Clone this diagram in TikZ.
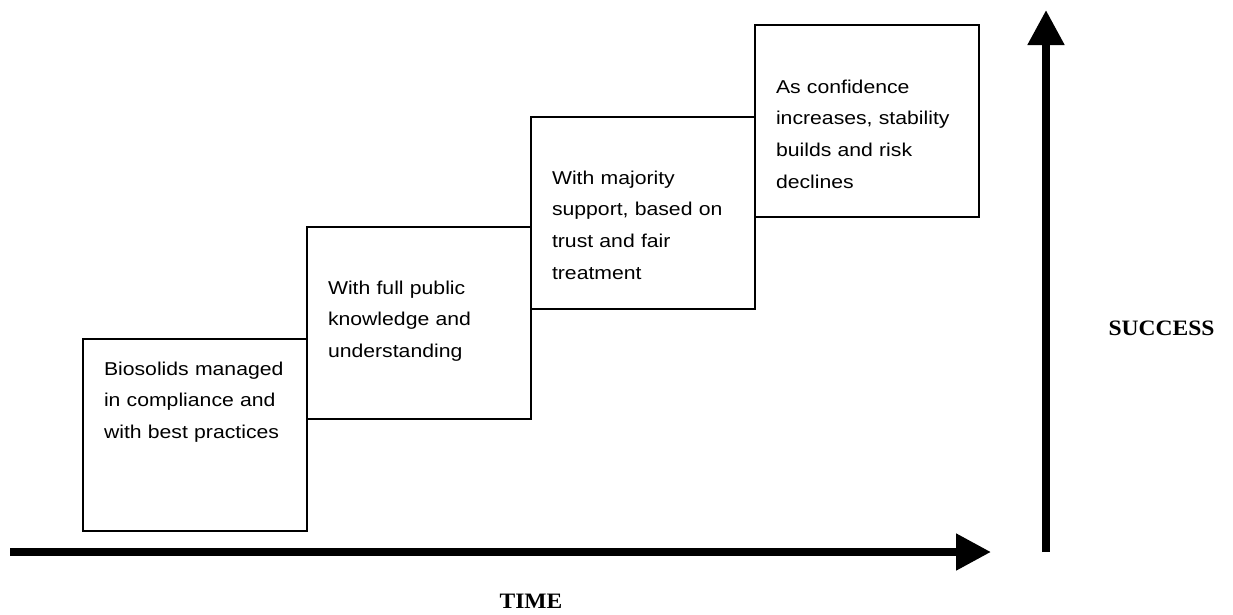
\documentclass[tikz,border=0pt]{standalone}
\usepackage{fontspec}
\newfontfamily\boxfont[FakeStretch=1.14]{Liberation Sans}
\newfontfamily\axisfont[FakeStretch=1.07]{Liberation Serif}
\usetikzlibrary{arrows.meta}

\begin{document}
\begin{tikzpicture}[x=1pt,y=-1pt,
    stepbox/.style={draw,line width=1.8pt,anchor=north west,outer sep=0pt,align=left,
        text width=182pt,inner xsep=21pt,inner ysep=0pt,text height=67pt,text depth=125pt,
        font=\boxfont\fontsize{18.6}{31.7}\selectfont},
    axis/.style={line width=8pt,-{Triangle[length=35pt,width=35pt]}},
    axislabel/.style={anchor=base,font=\axisfont\bfseries\fontsize{22}{26}\selectfont}]
    \useasboundingbox (0,0) rectangle (1233,614);
    \node[stepbox,text height=36pt,text depth=156pt] (bio) at (83,339)
        {Biosolids managed\\in compliance and\\with best practices};
    \node[stepbox] (public) at (307,227) {With full public\\knowledge and\\understanding};
    \node[stepbox] (trust) at (531,117) {With majority\\support, based on\\trust and fair\\treatment};
    \node[stepbox,text height=68pt,text depth=124pt] (stable) at (755,25)
        {As confidence\\increases, stability\\builds and risk\\declines};
    \coordinate (tstart) at (10,552);
    \coordinate (tend) at (991,552);
    \coordinate (sstart) at (1046,552);
    \coordinate (send) at (1046,10);
    \draw[axis] (tstart) -- (tend);
    \draw[axis] (sstart) -- (send);
    \node[axislabel] (time) at (531,608) {TIME};
    \node[axislabel] (success) at (1161.5,335) {SUCCESS};
\end{tikzpicture}
\end{document}
